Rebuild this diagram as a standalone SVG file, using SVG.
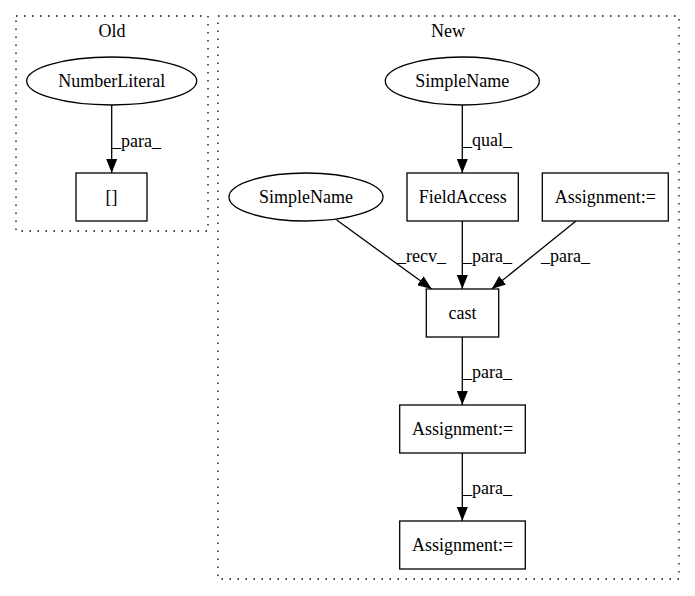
<svg xmlns="http://www.w3.org/2000/svg" width="695" height="596" viewBox="0 0 695 596">
<defs>
<marker id="ah" markerWidth="14" markerHeight="11" refX="14" refY="5.5" orient="auto" markerUnits="userSpaceOnUse" viewBox="0 0 14 11">
<path d="M0,0 L14,5.5 L0,11 z" fill="#000"/>
</marker>
</defs>
<style>
text{font-family:"Liberation Serif","Times New Roman",serif;font-size:18px;fill:#000}
.lbl{text-anchor:middle}
.node{fill:#fff;stroke:#000;stroke-width:1.3}
.cl{fill:none;stroke:#000;stroke-width:1.3;stroke-dasharray:1.5,6.5}
.edge{fill:none;stroke:#000;stroke-width:1.3;marker-end:url(#ah)}
</style>
<rect width="695" height="596" fill="#fff"/>
<g id="cluster_old">
<rect class="cl" x="16" y="16" width="192" height="215"/>
<text class="lbl" x="112" y="37">Old</text>
</g>
<g id="cluster_new">
<rect class="cl" x="218" y="16" width="461" height="563"/>
<text class="lbl" x="448" y="37">New</text>
</g>
<g id="edges">
<path class="edge" d="M111.7,105 L111.7,173"/>
<text x="112" y="147">_para_</text>
<path class="edge" d="M462.3,105 L462.3,173"/>
<text x="463" y="146">_qual_</text>
<path class="edge" d="M336.7,220 L431.7,289"/>
<text x="397" y="262">_recv_</text>
<path class="edge" d="M462.3,221 L462.3,289"/>
<text x="463" y="262">_para_</text>
<path class="edge" d="M576,221 L491.7,289"/>
<text x="541" y="262">_para_</text>
<path class="edge" d="M462.3,337 L462.3,405"/>
<text x="463" y="378">_para_</text>
<path class="edge" d="M462.3,453 L462.3,521"/>
<text x="463" y="494">_para_</text>
</g>
<g id="n_numberliteral">
<ellipse class="node" cx="111.7" cy="81" rx="85" ry="24"/>
<text class="lbl" x="111.7" y="87">NumberLiteral</text>
</g>
<g id="n_brackets">
<rect class="node" x="76" y="173" width="71" height="48"/>
<text class="lbl" x="111.5" y="203">[]</text>
</g>
<g id="n_simplename_top">
<ellipse class="node" cx="462.3" cy="81" rx="77" ry="24"/>
<text class="lbl" x="462.3" y="87">SimpleName</text>
</g>
<g id="n_fieldaccess">
<rect class="node" x="407" y="173" width="111.3" height="48"/>
<text class="lbl" x="462.7" y="203">FieldAccess</text>
</g>
<g id="n_assign_top">
<rect class="node" x="542.3" y="173" width="126" height="48"/>
<text class="lbl" x="605.3" y="203">Assignment:=</text>
</g>
<g id="n_simplename_left">
<ellipse class="node" cx="306" cy="197" rx="77" ry="24"/>
<text class="lbl" x="306" y="203">SimpleName</text>
</g>
<g id="n_cast">
<rect class="node" x="426.3" y="289" width="72.4" height="48"/>
<text class="lbl" x="462.5" y="319">cast</text>
</g>
<g id="n_assign_mid">
<rect class="node" x="399.7" y="405" width="125.6" height="48"/>
<text class="lbl" x="462.5" y="435">Assignment:=</text>
</g>
<g id="n_assign_bottom">
<rect class="node" x="399.7" y="521" width="125.6" height="48"/>
<text class="lbl" x="462.5" y="551">Assignment:=</text>
</g>
</svg>
